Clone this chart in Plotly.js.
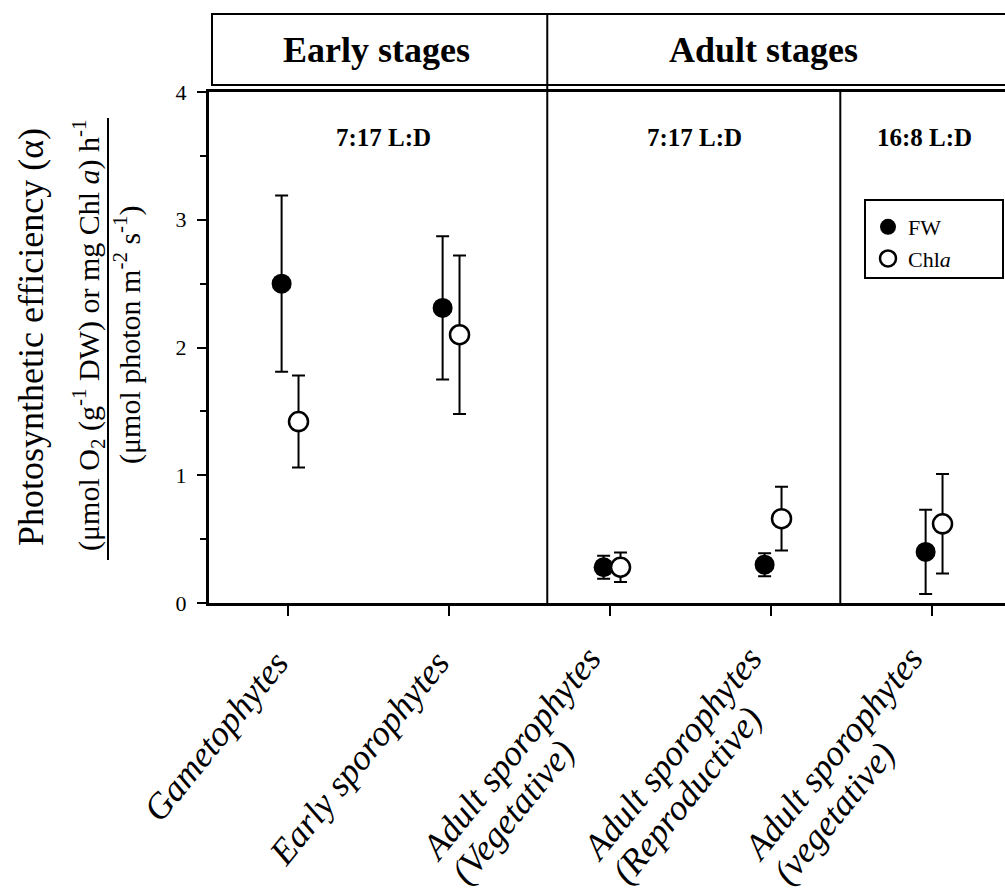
<!DOCTYPE html>
<html><head><meta charset="utf-8">
<script src="https://cdn.plot.ly/plotly-3.0.1.min.js"></script>
<style>html,body{margin:0;padding:0;background:#fff}</style>
</head><body><div id="chart" style="width:1005px;height:894px"></div>
<script>
// ---- data ----
const categories = ["Gametophytes", "Early sporophytes", "Adult sporophytes<br>(Vegetative)", "Adult sporophytes<br>(Reproductive)", "Adult sporophytes<br>(vegetative)"];
const fwValues = [2.50, 2.31, 0.28, 0.30, 0.40];
const fwErrors = [0.69, 0.56, 0.09, 0.09, 0.33];
const chlValues = [1.42, 2.10, 0.28, 0.66, 0.62];
const chlErrors = [0.36, 0.62, 0.115, 0.25, 0.39];
const stageLabels = ["Early stages", "Adult stages"];
const photoperiodLabels = ["7:17 L:D", "7:17 L:D", "16:8 L:D"];
const yTickVals = [0, 1, 2, 3, 4];

// ---- geometry ----
const W = 1005, H = 894, L = 209, R = 0, T = 92, B = 291;
const plotW = W - L - R, plotH = H - T - B;
const xr = [-0.491, 4.453];
const px = x => (x - L) / plotW;
const py = y => (H - B - y) / plotH;
const dx = v => (v - xr[0]) / (xr[1] - xr[0]);
const FONT = "Liberation Serif, Times New Roman, serif";
const idx = categories.map((c, i) => i);

const traces = [
  {
    name: "FW", type: "scatter", mode: "markers",
    x: idx.map(i => i - 0.04), y: fwValues,
    error_y: {type: "data", array: fwErrors, visible: true, color: "#000", thickness: 2, width: 6.5},
    marker: {size: 20, color: "#000", line: {width: 0}},
    cliponaxis: false
  },
  {
    name: "Chl<i>a</i>", type: "scatter", mode: "markers",
    x: idx.map(i => i + 0.065), y: chlValues,
    error_y: {type: "data", array: chlErrors, visible: true, color: "#000", thickness: 2, width: 6.5},
    marker: {size: 19, color: "#fff", line: {width: 2.5, color: "#000"}},
    cliponaxis: false
  }
];

const ann = [];
// category labels: rotated, lines left-aligned as in the original
const ANG = -51, LBL = {family: FONT, size: 36, style: "italic", color: "#000"};
const vx = Math.sin(51 * Math.PI / 180), vy = Math.cos(51 * Math.PI / 180);
categories.forEach((c, i) => {
  const lines = c.split("<br>");
  if (lines.length === 1) {
    ann.push({text: c, xref: "x", yref: "paper", x: i, y: py(642), xanchor: "right", yanchor: "top",
      textangle: ANG, xshift: 10, showarrow: false, borderpad: 0, font: LBL});
  } else {
    lines.forEach((ln, k) => {
      const sx = -166 + k * 38 * vx - 32, sy = 869 + k * 38 * vy;
      ann.push({text: ln, xref: "x", yref: "paper", x: i, y: py(Math.min(sy, 893)), xanchor: "left", yanchor: "bottom",
        textangle: ANG, xshift: sx, showarrow: false, borderpad: 0, font: LBL});
    });
  }
});
const stageX = [376, 763];
stageLabels.forEach((t, i) => ann.push({text: "<b>" + t + "</b>", xref: "paper", yref: "paper", x: px(stageX[i]), y: py(50), showarrow: false, xanchor: "center", yanchor: "middle", font: {family: FONT, size: 36, color: "#000"}}));
const ppX = [383, 694, 924];
photoperiodLabels.forEach((t, i) => ann.push({text: "<b>" + t + "</b>", xref: "paper", yref: "paper", x: px(ppX[i]), y: py(137), showarrow: false, xanchor: "center", yanchor: "middle", font: {family: FONT, size: 25, color: "#000"}}));
ann.push({text: "Photosynthetic efficiency (α)", xref: "paper", yref: "paper", x: px(31), y: py(337), textangle: -90, showarrow: false, xanchor: "center", yanchor: "middle", font: {family: FONT, size: 36, color: "#000"}});
ann.push({text: "(μmol O<sub>2</sub> (g<sup>-1</sup> DW) or mg Chl <i>a</i>) h<sup>-1</sup>", xref: "paper", yref: "paper", x: px(88), y: py(335), textangle: -90, showarrow: false, xanchor: "center", yanchor: "middle", font: {family: FONT, size: 30, color: "#000"}});
ann.push({text: "(μmol photon m<sup>-2</sup> s<sup>-1</sup>)", xref: "paper", yref: "paper", x: px(127), y: py(335), textangle: -90, showarrow: false, xanchor: "center", yanchor: "middle", font: {family: FONT, size: 30, color: "#000"}});

const shapes = [
  // header box
  {type: "rect", xref: "paper", yref: "paper", x0: px(212), x1: 1.02, y0: py(85), y1: py(14), line: {color: "#000", width: 2}},
  // stage divider (header + plot)
  {type: "line", xref: "paper", yref: "paper", x0: dx(1.61), x1: dx(1.61), y0: 0, y1: py(14), line: {color: "#000", width: 2}},
  // photoperiod divider
  {type: "line", xref: "paper", yref: "paper", x0: dx(3.43), x1: dx(3.43), y0: 0, y1: 1, line: {color: "#000", width: 2}},
  // fraction bar in y title
  {type: "line", xref: "paper", yref: "paper", x0: px(108), x1: px(108), y0: py(560), y1: py(118), line: {color: "#000", width: 2}},
  // legend box
  {type: "rect", xref: "paper", yref: "paper", layer: "above", x0: px(865), x1: px(1003), y0: py(278), y1: py(200), fillcolor: "#fff", line: {color: "#000", width: 2}}
];

const layout = {
  width: W, height: H,
  margin: {l: L, r: R, t: T, b: B, pad: 0},
  paper_bgcolor: "#fff", plot_bgcolor: "#fff",
  font: {family: FONT, color: "#000"},
  showlegend: true,
  legend: {x: px(868), y: py(206), xanchor: "left", yanchor: "top", bgcolor: "rgba(0,0,0,0)", borderwidth: 0, font: {family: FONT, size: 22, color: "#000"}, tracegroupgap: 0},
  xaxis: {
    range: xr, tickmode: "array", tickvals: idx, showticklabels: false,
    ticks: "outside", ticklen: 10, tickwidth: 2, tickcolor: "#000",
    showline: true, linewidth: 3, linecolor: "#000", mirror: true,
    showgrid: false, zeroline: false, fixedrange: true
  },
  yaxis: {
    range: [0, 4], tickmode: "array", tickvals: yTickVals,
    ticks: "outside", ticklen: 9, tickwidth: 2, tickcolor: "#000",
    minor: {dtick: 0.5, ticks: "outside", ticklen: 6, tickwidth: 2, tickcolor: "#000", showgrid: false},
    showline: true, linewidth: 3, linecolor: "#000",
    showgrid: false, zeroline: false,
    tickfont: {family: FONT, size: 22, color: "#000"}, ticklabelstandoff: 6, fixedrange: true
  },
  annotations: ann,
  shapes: shapes
};

Plotly.newPlot("chart", traces, layout, {displayModeBar: false, staticPlot: true});
</script></body></html>
